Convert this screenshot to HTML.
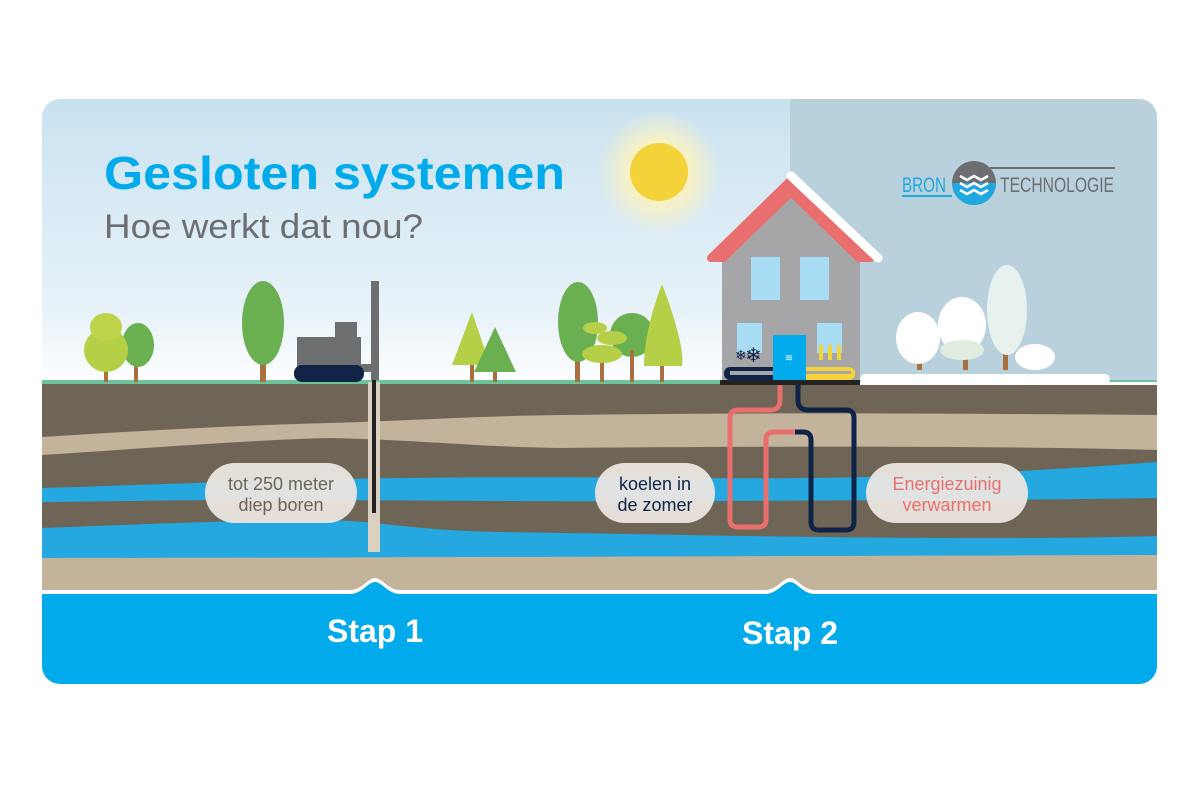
<!DOCTYPE html>
<html><head><meta charset="utf-8"><style>
html,body{margin:0;padding:0;background:#fff;width:1200px;height:800px;overflow:hidden}
svg{display:block}
text{font-family:"Liberation Sans",sans-serif}
</style></head><body>
<svg width="1200" height="800" viewBox="0 0 1200 800" xmlns="http://www.w3.org/2000/svg">
<defs>
<linearGradient id="sky" x1="0" y1="0" x2="0" y2="1">
<stop offset="0" stop-color="#c9e2f0"/><stop offset="0.75" stop-color="#e9f3f9"/><stop offset="1" stop-color="#ffffff"/>
</linearGradient>
<radialGradient id="sunglow"><stop offset="0.5" stop-color="#fbf3c0" stop-opacity="0.9"/><stop offset="1" stop-color="#fbf3c0" stop-opacity="0"/></radialGradient>
<clipPath id="card"><rect x="42" y="99" width="1115" height="585" rx="18"/></clipPath>
</defs>
<g clip-path="url(#card)">
<rect x="42" y="99" width="1115" height="290" fill="url(#sky)"/>
<rect x="790" y="99" width="367" height="290" fill="#b9d1dd"/>
<circle cx="659" cy="172" r="62" fill="url(#sunglow)"/>
<circle cx="659" cy="172" r="29" fill="#f3d23a"/>
<rect x="42" y="380" width="1115" height="5" fill="#6ec29a"/>
<rect x="42" y="384" width="1115" height="210" fill="#6f6557"/>
<path d="M42 437 C150 430 250 425 330 423 C420 420 480 416 560 415 C800 412 1000 414 1157 415 L1157 450 C1000 446 800 446 560 448 C480 447 420 440 330 438 C250 440 150 448 42 455 Z" fill="#c2b39a"/>
<path d="M42 488 C150 485 250 480 400 478 C500 477 560 477 700 478 C900 480 1050 470 1157 462 L1157 498 C1050 500 900 500 700 501 C560 502 400 500 250 500 C150 500 100 502 42 502Z" fill="#25a7df"/>
<path d="M42 528 C150 524 220 521 300 520 C380 519 400 530 500 532 C650 534 800 538 1000 538 C1080 538 1130 537 1157 536 L1157 556 C900 556 600 557 300 558 L42 558 Z" fill="#25a7df"/>
<path d="M42 558 C300 558 700 556 1157 555 L1157 594 L42 594Z" fill="#c2b39a"/>
<path d="M42 590 L350 590 C362 590 368 578 375 578 C382 578 388 590 400 590 L765 590 C777 590 783 578 790 578 C797 578 803 590 815 590 L1157 590 L1157 684 L42 684Z" fill="#fff"/>
<path d="M42 594 L350 594 C362 594 368 582 375 582 C382 582 388 594 400 594 L765 594 C777 594 783 582 790 582 C797 582 803 594 815 594 L1157 594 L1157 684 L42 684Z" fill="#00aaeb"/>
<rect x="368" y="382" width="12" height="170" fill="#dcd1c0"/>
<rect x="372" y="378" width="4" height="135" fill="#222"/>
<rect x="104" y="360" width="4" height="22" fill="#a8703f"/>
<rect x="134" y="355" width="4" height="27" fill="#a8703f"/>
<ellipse cx="138" cy="345" rx="16" ry="22" fill="#6aaf50"/>
<ellipse cx="106" cy="350" rx="22" ry="22" fill="#b5cf46"/>
<ellipse cx="106" cy="327" rx="16" ry="14" fill="#bdd34a"/>
<rect x="260" y="340" width="6" height="42" fill="#a8703f"/>
<ellipse cx="263" cy="323" rx="21" ry="42" fill="#6aaf50"/>
<rect x="297" y="337" width="64" height="32" fill="#6d6e70"/>
<rect x="335" y="322" width="22" height="18" fill="#6d6e70"/>
<rect x="371" y="281" width="8" height="99" fill="#6d6e70"/>
<rect x="357" y="364" width="18" height="8" fill="#6d6e70"/>
<rect x="294" y="365" width="70" height="17" rx="8" fill="#0f2346"/>
<rect x="470" y="360" width="4" height="22" fill="#a8703f"/>
<path d="M472 312 L490 365 L452 365Z" fill="#b5cf46"/>
<rect x="493" y="365" width="4" height="17" fill="#a8703f"/>
<path d="M495 327 L516 372 L474 372Z" fill="#6aaf50"/>
<rect x="575" y="350" width="5" height="32" fill="#a8703f"/>
<ellipse cx="578" cy="322" rx="20" ry="40" fill="#6aaf50"/>
<ellipse cx="632" cy="335" rx="22" ry="22" fill="#6aaf50"/>
<rect x="630" y="350" width="4" height="32" fill="#a8703f"/>
<rect x="600" y="350" width="4" height="32" fill="#a8703f"/>
<ellipse cx="602" cy="354" rx="20" ry="9" fill="#b5cf46"/>
<ellipse cx="612" cy="338" rx="15" ry="7" fill="#b5cf46"/>
<ellipse cx="595" cy="328" rx="12" ry="6" fill="#b5cf46"/>
<rect x="660" y="355" width="4" height="27" fill="#a8703f"/>
<path d="M662 284 C672 310 685 350 682 366 L644 366 C644 340 652 310 662 284Z" fill="#b5cf46"/>
<!-- house -->
<path d="M722 258 L791 190 L860 258Z" fill="#a6a5a8"/>
<rect x="722" y="257" width="138" height="125" fill="#a6a5a8"/>
<path d="M711 258 L791 180 L871 258 L859 258 L791 192 L723 258Z" fill="#e96f6f" stroke="#e96f6f" stroke-width="8" stroke-linejoin="round"/>
<path d="M791 176 L878 258" stroke="#fff" stroke-width="9" stroke-linecap="round"/>
<rect x="751" y="257" width="29" height="43" fill="#a8dcf5"/>
<rect x="800" y="257" width="29" height="43" fill="#a8dcf5"/>
<rect x="737" y="323" width="25" height="30" fill="#a8dcf5"/>
<rect x="817" y="323" width="25" height="30" fill="#a8dcf5"/>
<text x="735" y="360" font-size="14" fill="#0f2346">❄</text>
<text x="745" y="362" font-size="20" fill="#0f2346">❄</text>
<rect x="819" y="345" width="4" height="15" fill="#f3d23a"/><rect x="828" y="345" width="4" height="15" fill="#f3d23a"/><rect x="837" y="345" width="4" height="15" fill="#f3d23a"/>
<rect x="724" y="367" width="60" height="13" rx="6" fill="#0f2346"/>
<rect x="730" y="371" width="50" height="4" fill="#a6a5a8"/>
<rect x="800" y="367" width="55" height="13" rx="6" fill="#f3d23a"/>
<rect x="806" y="371" width="45" height="3" fill="#a6a5a8"/>
<rect x="773" y="335" width="33" height="46" fill="#00aaeb"/>
<text x="789" y="361" font-size="10" fill="#fff" text-anchor="middle">≋</text>
<rect x="720" y="380" width="140" height="5" fill="#222"/>
<path d="M780 385 L780 400 Q780 410 770 410 L738 410 Q730 410 730 418 L730 520 Q730 527 738 527 L758 527 Q766 527 766 520 L766 440 Q766 432 774 432 L795 432" fill="none" stroke="#e96f6f" stroke-width="5"/>
<path d="M798 385 L798 400 Q798 410 808 410 L846 410 Q854 410 854 418 L854 522 Q854 530 846 530 L819 530 Q811 530 811 522 L811 440 Q811 432 803 432 L795 432" fill="none" stroke="#0f2346" stroke-width="5"/>
<rect x="917" y="340" width="5" height="30" fill="#a8703f"/>
<rect x="963" y="340" width="5" height="30" fill="#a8703f"/>
<rect x="1003" y="340" width="5" height="30" fill="#a8703f"/>
<ellipse cx="918" cy="338" rx="22" ry="26" fill="#fff"/>
<ellipse cx="962" cy="325" rx="24" ry="28" fill="#fff"/>
<ellipse cx="962" cy="350" rx="22" ry="10" fill="#e0ece0"/>
<ellipse cx="1007" cy="310" rx="20" ry="45" fill="#e7f1ee"/>
<ellipse cx="1035" cy="357" rx="20" ry="13" fill="#fff"/>
<rect x="860" y="374" width="250" height="10" rx="5" fill="#fff"/>
<rect x="860" y="382" width="297" height="3" fill="#fff"/>
</g>
<line x1="990" y1="168" x2="1115" y2="168" stroke="#6d6e70" stroke-width="2"/>
<circle cx="974" cy="183" r="22" fill="#6d6e70"/>
<path d="M952 183 A22 22 0 0 0 996 183Z" fill="#1fa8e0"/>
<path d="M960 176 l7 4 l7 -4 l7 4 l7 -4 M960 183 l7 4 l7 -4 l7 4 l7 -4 M960 190 l7 4 l7 -4 l7 4 l7 -4" stroke="#fff" stroke-width="2.5" fill="none"/>
<text x="902" y="192" font-size="21" fill="#1fa8e0" textLength="44" lengthAdjust="spacingAndGlyphs">BRON</text>
<line x1="902" y1="196" x2="952" y2="196" stroke="#1fa8e0" stroke-width="2"/>
<text x="1000" y="192" font-size="21" fill="#6d6e70" textLength="114" lengthAdjust="spacingAndGlyphs">TECHNOLOGIE</text>
<text x="104" y="189" font-size="46" font-weight="bold" fill="#00aaeb" textLength="461" lengthAdjust="spacingAndGlyphs">Gesloten systemen</text>
<text x="104" y="238" font-size="34" fill="#6d6e70" textLength="319" lengthAdjust="spacingAndGlyphs">Hoe werkt dat nou?</text>
<rect x="205" y="463" width="152" height="60" rx="30" fill="#ebe6e1" opacity="0.95"/>
<text x="281" y="490" font-size="18" fill="#6f6557" text-anchor="middle">tot 250 meter</text>
<text x="281" y="511" font-size="18" fill="#6f6557" text-anchor="middle">diep boren</text>
<rect x="595" y="463" width="120" height="60" rx="30" fill="#ebe6e1" opacity="0.95"/>
<text x="655" y="490" font-size="18" fill="#0f2346" text-anchor="middle">koelen in</text>
<text x="655" y="511" font-size="18" fill="#0f2346" text-anchor="middle">de zomer</text>
<rect x="866" y="463" width="162" height="60" rx="30" fill="#ebe6e1" opacity="0.95"/>
<text x="947" y="490" font-size="18" fill="#e96f6f" text-anchor="middle">Energiezuinig</text>
<text x="947" y="511" font-size="18" fill="#e96f6f" text-anchor="middle">verwarmen</text>
<text x="375" y="642" font-size="32" font-weight="bold" fill="#fff" text-anchor="middle">Stap 1</text>
<text x="790" y="644" font-size="32" font-weight="bold" fill="#fff" text-anchor="middle">Stap 2</text>
</svg>
</body></html>
